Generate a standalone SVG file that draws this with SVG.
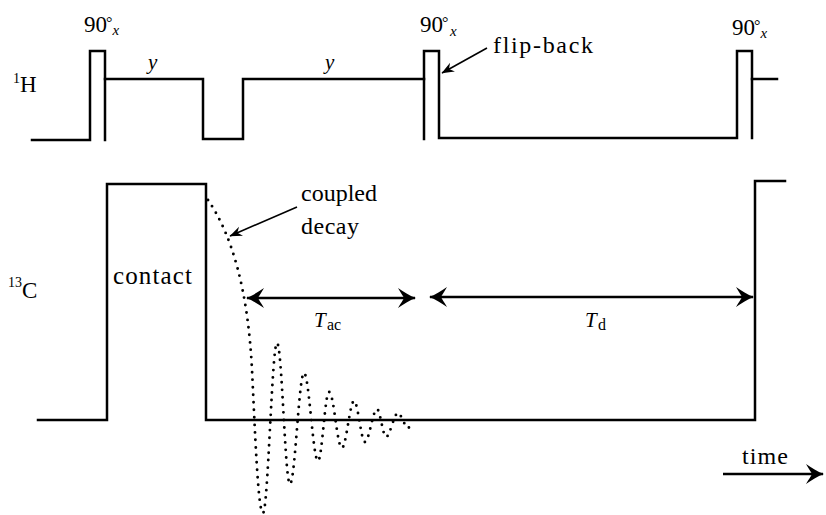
<svg xmlns="http://www.w3.org/2000/svg" width="826" height="515" viewBox="0 0 826 515">
<defs>
<style>
.wave{fill:none;stroke:#000;stroke-width:2.5;stroke-linejoin:miter;stroke-linecap:square}
.dots{fill:none;stroke:#000;stroke-width:2.9;stroke-linecap:round;stroke-dasharray:0 7.5}
.dim{fill:none;stroke:#000;stroke-width:2.5;marker-start:url(#big);marker-end:url(#big)}
.ptr{fill:none;stroke:#000;stroke-width:1.6;marker-end:url(#small)}
.t{fill:#000}
.it{font-style:italic}
</style>
<marker id="big" viewBox="-19 -11 21 22" refX="0" refY="0" markerWidth="21" markerHeight="22" markerUnits="userSpaceOnUse" orient="auto-start-reverse">
<path d="M1,0 C-5,-2 -11,-6 -17,-10 C-14,-5 -12,-2 -11,0 C-12,2 -14,5 -17,10 C-11,6 -5,2 1,0 Z" fill="#000"/>
</marker>
<marker id="small" viewBox="-13 -6 14 12" refX="0" refY="0" markerWidth="14" markerHeight="12" markerUnits="userSpaceOnUse" orient="auto">
<path d="M0.5,0 L-12,-5 L-8,0 L-12,5 Z" fill="#000"/>
</marker>
</defs>
<rect width="826" height="515" fill="#fff"/>

<g id="h-channel">
<path class="wave" d="M32,140 H90 V51 H105 V140"/>
<path class="wave" d="M105,79 H203 V139 H243 V79 H424"/>
<path class="wave" d="M424,139 V51 H439 V138 H737 V51 H752 V138"/>
<path class="wave" d="M752,79 H777"/>
</g>

<g id="c-channel">
<path class="wave" d="M38,420 H107 V184 H206 V420 H755 V181 H785"/>
</g>

<g id="fid">
<path class="dots" d="M208,200 C232,235 248,290 252,370 C255,430 258,513 263,513 C268,513 272,343 277,343 C282,343 285,484 290,484 C295,484 299,373 304,373 C309,373 313,461 318,461 C322,461 325,392 329,392 C334,392 337,448 342,448 C346,448 350,401 354,401 C358,401 361,442 365,442 C369,442 373,409 377,409 C380,409 383,437 386,437 C390,437 394,413 398,413 C401,413 405,428 408,428 C410,428 411,422 413,422"/>
</g>

<g id="connectors">
<line class="dim" x1="247" y1="298" x2="415" y2="298"/>
<line class="dim" x1="430" y1="297" x2="753" y2="297"/>
<line class="ptr" x1="297" y1="207" x2="230" y2="236"/>
<line class="ptr" x1="487" y1="48" x2="442" y2="73"/>
<line x1="723" y1="474" x2="823" y2="474" stroke="#000" stroke-width="2.5" marker-end="url(#big)"/>
</g>

<g font-family="Liberation Serif, Times New Roman, serif">
<g id="label-1H">
<text class="t" x="13" y="83" font-size="14">1<tspan x="20" y="92" font-size="23">H</tspan></text>
</g>
<g id="label-13C">
<text class="t" x="8" y="287" font-size="14">13<tspan x="22" y="298" font-size="23">C</tspan></text>
</g>

<g id="pulse1-label">
<text class="t" x="84" y="32" font-size="23">90<tspan x="106" y="28" font-size="16">°</tspan><tspan class="it" x="112.6" y="35" font-size="15">x</tspan></text>
</g>
<g id="pulse2-label">
<text class="t" x="420" y="32" font-size="23">90<tspan x="442" y="28" font-size="16">°</tspan><tspan class="it" x="450" y="36" font-size="15">x</tspan></text>
</g>
<g id="pulse3-label">
<text class="t" x="732" y="35" font-size="23">90<tspan x="754" y="31" font-size="16">°</tspan><tspan class="it" x="760.6" y="38" font-size="15">x</tspan></text>
</g>

<g id="y-labels">
<text class="t it" x="148" y="69" font-size="21">y</text>
<text class="t it" x="325" y="69" font-size="21">y</text>
</g>

<g id="flip-back-label">
<text class="t" x="493" y="53" font-size="24" textLength="100" lengthAdjust="spacing">flip-back</text>
</g>

<g id="contact-label">
<text class="t" x="113" y="284" font-size="25" textLength="79" lengthAdjust="spacing">contact</text>
</g>

<g id="coupled-decay-label">
<text class="t" x="301" y="201" font-size="24" textLength="76" lengthAdjust="spacing">coupled</text>
<text class="t" x="301" y="234" font-size="24" textLength="58" lengthAdjust="spacing">decay</text>
</g>

<g id="Tac-label">
<text class="t it" x="314" y="327" font-size="21">T<tspan font-style="normal" x="327" y="330" font-size="16">ac</tspan></text>
</g>
<g id="Td-label">
<text class="t it" x="585" y="327" font-size="21">T<tspan font-style="normal" x="598" y="330" font-size="16">d</tspan></text>
</g>

<g id="time-label">
<text class="t" x="742" y="464" font-size="24" textLength="46" lengthAdjust="spacing">time</text>
</g>
</g>
</svg>
